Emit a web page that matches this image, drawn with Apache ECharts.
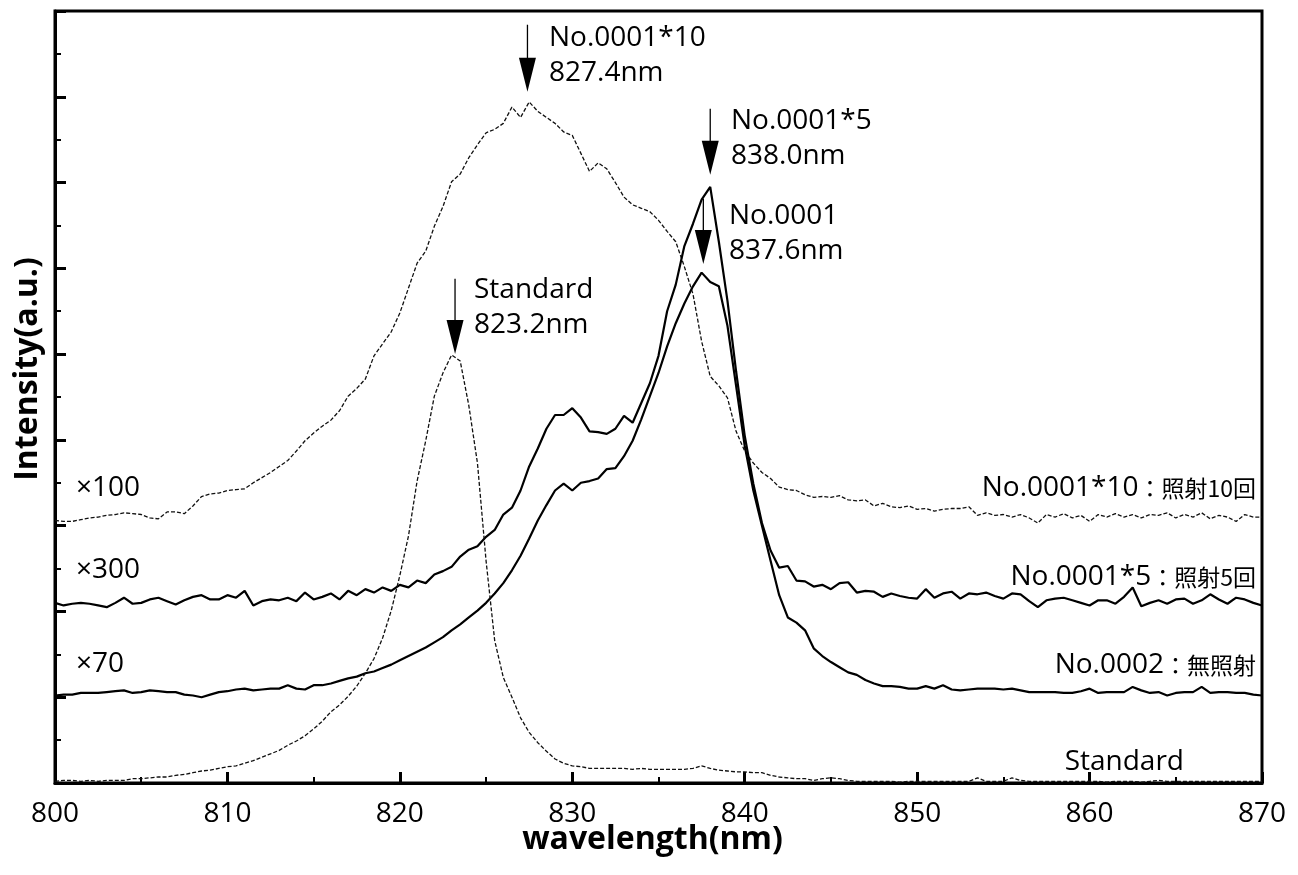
<!DOCTYPE html>
<html><head><meta charset="utf-8">
<script src="https://cdn.jsdelivr.net/npm/echarts@6/dist/echarts.min.js"></script>
<style>html,body{margin:0;padding:0;background:#fff}#c{width:1298px;height:875px}</style>
</head><body><div id="c"></div>
<script>
// wavelength sampling grid (nm), 0.5 nm step
const wavelengths = Array.from({length: 141}, (_, i) => 800 + i * 0.5);

// No.0001*10 (x100)
const no0001x10 = [
3.06,3.05,3.05,3.07,3.09,3.10,3.12,3.13,3.15,3.14,
3.13,3.09,3.08,3.16,3.16,3.14,3.23,3.34,3.37,3.38,
3.41,3.42,3.43,3.50,3.56,3.62,3.69,3.76,3.87,3.99,
4.08,4.16,4.23,4.34,4.51,4.60,4.71,4.98,5.12,5.26,
5.48,5.77,6.06,6.20,6.49,6.72,7.01,7.10,7.29,7.44,
7.58,7.62,7.69,7.88,7.76,7.94,7.83,7.76,7.69,7.59,
7.55,7.34,7.13,7.23,7.16,7.00,6.83,6.74,6.70,6.66,
6.56,6.43,6.31,6.02,5.70,5.15,4.74,4.63,4.49,4.10,
3.87,3.73,3.62,3.55,3.45,3.42,3.41,3.36,3.33,3.34,
3.33,3.35,3.30,3.29,3.30,3.23,3.26,3.22,3.21,3.23,
3.19,3.20,3.17,3.19,3.20,3.20,3.22,3.12,3.15,3.12,
3.13,3.10,3.13,3.09,3.03,3.13,3.10,3.14,3.09,3.12,
3.05,3.13,3.10,3.14,3.10,3.13,3.09,3.13,3.12,3.15,
3.09,3.13,3.10,3.15,3.08,3.12,3.10,3.05,3.13,3.10,
3.10];

// No.0001*5 (x300)
const no0001x5 = [
2.10,2.07,2.09,2.10,2.09,2.07,2.05,2.10,2.16,2.09,
2.10,2.14,2.16,2.12,2.08,2.13,2.17,2.19,2.14,2.14,
2.19,2.16,2.24,2.07,2.12,2.14,2.13,2.16,2.12,2.22,
2.14,2.17,2.21,2.14,2.24,2.19,2.26,2.22,2.28,2.24,
2.31,2.28,2.36,2.33,2.43,2.47,2.52,2.64,2.72,2.76,
2.87,2.95,3.13,3.21,3.41,3.69,3.90,4.13,4.29,4.29,
4.37,4.26,4.10,4.09,4.07,4.13,4.28,4.20,4.43,4.66,
4.98,5.50,5.81,6.26,6.52,6.80,6.95,6.31,5.62,4.80,
4.05,3.49,3.03,2.71,2.51,2.53,2.36,2.35,2.29,2.31,
2.26,2.33,2.34,2.22,2.24,2.23,2.17,2.21,2.18,2.16,
2.15,2.26,2.16,2.21,2.23,2.15,2.21,2.20,2.22,2.18,
2.15,2.21,2.20,2.12,2.05,2.13,2.15,2.16,2.13,2.10,
2.07,2.13,2.13,2.09,2.17,2.28,2.06,2.10,2.13,2.09,
2.14,2.15,2.09,2.13,2.20,2.14,2.09,2.16,2.14,2.10,
2.07];

// No.0002 (x70)
const no0002 = [
1.02,1.03,1.03,1.05,1.05,1.05,1.06,1.07,1.08,1.05,
1.06,1.08,1.07,1.06,1.06,1.03,1.02,1.00,1.03,1.06,
1.07,1.09,1.10,1.08,1.09,1.10,1.10,1.14,1.10,1.09,
1.14,1.14,1.16,1.19,1.22,1.24,1.28,1.30,1.34,1.38,
1.43,1.48,1.53,1.58,1.64,1.70,1.78,1.85,1.93,2.01,
2.10,2.21,2.33,2.48,2.65,2.85,3.06,3.24,3.41,3.49,
3.41,3.50,3.52,3.55,3.66,3.67,3.81,3.99,4.24,4.51,
4.78,5.09,5.36,5.59,5.79,5.95,5.84,5.79,5.33,4.63,
3.93,3.41,3.00,2.59,2.19,1.93,1.87,1.78,1.57,1.48,
1.41,1.35,1.29,1.26,1.20,1.16,1.13,1.13,1.12,1.10,
1.10,1.13,1.10,1.14,1.09,1.08,1.09,1.10,1.10,1.10,
1.09,1.10,1.08,1.06,1.06,1.06,1.06,1.05,1.05,1.07,
1.10,1.05,1.06,1.06,1.06,1.12,1.08,1.05,1.06,1.02,
1.05,1.06,1.06,1.12,1.05,1.06,1.06,1.05,1.05,1.03,
1.02];

// Standard
const standard = [
0.02,0.03,0.03,0.02,0.03,0.02,0.03,0.03,0.03,0.05,
0.05,0.06,0.07,0.07,0.09,0.10,0.12,0.14,0.15,0.17,
0.19,0.20,0.23,0.26,0.30,0.34,0.38,0.44,0.49,0.55,
0.63,0.72,0.83,0.91,1.01,1.13,1.28,1.45,1.69,2.01,
2.42,2.88,3.52,3.99,4.51,4.78,4.99,4.92,4.40,3.73,
2.59,1.66,1.23,1.00,0.76,0.59,0.47,0.37,0.28,0.23,
0.20,0.19,0.17,0.17,0.17,0.17,0.17,0.16,0.17,0.16,
0.16,0.16,0.16,0.16,0.17,0.20,0.17,0.15,0.14,0.13,
0.13,0.12,0.12,0.09,0.07,0.06,0.05,0.05,0.03,0.05,
0.06,0.05,0.03,0.02,0.02,0.02,0.02,0.02,0.01,0.02,
0.02,0.02,0.02,0.02,0.02,0.02,0.02,0.06,0.02,0.02,
0.02,0.06,0.03,0.02,0.02,0.02,0.02,0.02,0.02,0.02,
0.02,0.02,0.01,0.02,0.02,0.02,0.01,0.02,0.03,0.02,
0.02,0.02,0.02,0.02,0.02,0.02,0.02,0.02,0.02,0.02,
0.02];

// peak arrows: [wavelength, arrow top value, arrow tip value]
const peakArrows = [
  [827.4, 8.84, 8.06],
  [838.0, 7.86, 7.09],
  [837.6, 6.81, 6.05],
  [823.2, 5.88, 5.00]
];
const peakLabels = ['No.0001*10\n827.4nm', 'No.0001*5\n838.0nm', 'No.0001\n837.6nm', 'Standard\n823.2nm'];
const seriesNames = ['No.0001*10：照射10回', 'No.0001*5：照射5回', 'No.0002：無照射', 'Standard'];
const multipliers = ['×100', '×300', '×70'];
const xTickValues = [800, 810, 820, 830, 840, 850, 860, 870];

const FONT = '"Open Sans", "Noto Sans", sans-serif';
const CJK = '"Noto Sans CJK JP", sans-serif';

function pairs(vals) { return wavelengths.map((w, i) => [w, vals[i]]); }

const chart = echarts.init(document.getElementById('c'), null, {renderer: 'canvas'});

const lineBase = {type: 'line', showSymbol: false, symbol: 'none', smooth: false, animation: false, z: 3};

const option = {
  animation: false,
  backgroundColor: '#fff',
  grid: {left: 55, right: 36, top: 11, bottom: 92, show: true, borderColor: '#000', borderWidth: 3, backgroundColor: 'transparent'},
  xAxis: {
    type: 'value', min: 800, max: 870, interval: 10,
    name: 'wavelength(nm)', nameLocation: 'middle', nameGap: 41, nameMoveOverlap: false,
    nameTextStyle: {fontFamily: FONT, fontSize: 32, fontWeight: 'bold', color: '#000', padding: [0, 12, 0, 0]},
    axisLine: {show: true, lineStyle: {color: '#000', width: 3}},
    axisTick: {show: true, inside: true, length: 11, lineStyle: {color: '#000', width: 3}},
    minorTick: {show: true, splitNumber: 2, length: 6, lineStyle: {color: '#000', width: 2}},
    axisLabel: {show: true, margin: 17, fontFamily: FONT, fontSize: 28, color: '#000',
      formatter: v => xTickValues.includes(v) ? String(v) : ''},
    splitLine: {show: false}
  },
  yAxis: {
    type: 'value', min: 0, max: 9, interval: 1,
    axisLine: {show: true, lineStyle: {color: '#000', width: 3}},
    axisTick: {show: true, inside: true, length: 11, lineStyle: {color: '#000', width: 3}},
    minorTick: {show: true, splitNumber: 2, length: 6, lineStyle: {color: '#000', width: 2}},
    axisLabel: {show: false},
    splitLine: {show: false}
  },
  series: [
    Object.assign({}, lineBase, {name: seriesNames[0], data: pairs(no0001x10),
      lineStyle: {color: '#111', width: 1.3, type: [4, 2]}}),
    Object.assign({}, lineBase, {name: seriesNames[1], data: pairs(no0001x5),
      lineStyle: {color: '#000', width: 2.2}}),
    Object.assign({}, lineBase, {name: seriesNames[2], data: pairs(no0002),
      lineStyle: {color: '#000', width: 2.2}}),
    Object.assign({}, lineBase, {name: seriesNames[3], data: pairs(standard),
      lineStyle: {color: '#111', width: 1.3, type: [4, 2]}}),
    {
      type: 'custom', name: 'arrows', coordinateSystem: 'cartesian2d', animation: false, z: 5,
      data: peakArrows, encode: {x: 0, y: [1, 2]},
      renderItem: function (params, api) {
        const top = api.coord([api.value(0), api.value(1)]);
        const tip = api.coord([api.value(0), api.value(2)]);
        const hh = 34, hw = 17;
        return {type: 'group', children: [
          {type: 'line', shape: {x1: top[0], y1: top[1], x2: tip[0], y2: tip[1] - hh + 2},
            style: {stroke: '#000', lineWidth: 1.3}},
          {type: 'polygon', shape: {points: [[tip[0] - hw / 2, tip[1] - hh], [tip[0] + hw / 2, tip[1] - hh], [tip[0], tip[1]]]},
            style: {fill: '#000'}}
        ]};
      }
    }
  ],
  graphic: []
};

function txt(x, y, text, opts) {
  return Object.assign({type: 'text', x: x, y: y, z: 10, silent: true,
    style: Object.assign({text: text, fill: '#000', font: '28px ' + FONT,
      textAlign: 'left', textVerticalAlign: 'middle', align: 'left', verticalAlign: 'middle'}, opts || {})});
}

const g = [];
// axis title (y)
g.push({type: 'text', x: 28, y: 369, rotation: Math.PI / 2, z: 10, silent: true,
  style: {text: 'Intensity(a.u.)', fill: '#000', font: 'bold 32px ' + FONT,
    textAlign: 'center', textVerticalAlign: 'middle', align: 'center', verticalAlign: 'middle'}});
// peak labels (two lines each)
const peakLabelPos = [[549, 38], [731, 121], [729, 216], [474, 290]];
peakLabels.forEach((t, i) => {
  g.push(txt(peakLabelPos[i][0], peakLabelPos[i][1] - 17, t, {textVerticalAlign: 'top', verticalAlign: 'top', lineHeight: 35}));
});
// multiplier labels
const multPos = [[76, 488], [76, 570], [76, 664]];
multipliers.forEach((t, i) => g.push(txt(multPos[i][0], multPos[i][1], t)));
// right-side series labels
const rightPos = [[1256, 488], [1256, 577], [1256, 665]];
seriesNames.slice(0, 3).forEach((n, i) => {
  const parts = n.split('：');
  g.push(txt(rightPos[i][0], rightPos[i][1], '{a|' + parts[0] + '}{b|：' + parts[1] + '}', {
    textAlign: 'right', align: 'right',
    rich: {a: {fontFamily: FONT, fontSize: 28, fill: '#000', color: '#000'},
           b: {fontFamily: CJK, fontSize: 23, fill: '#000', color: '#000'}}
  }));
});
g.push(txt(1184, 762, seriesNames[3], {textAlign: 'right', align: 'right'}));
option.graphic = g;

chart.setOption(option);
</script>
</body></html>
